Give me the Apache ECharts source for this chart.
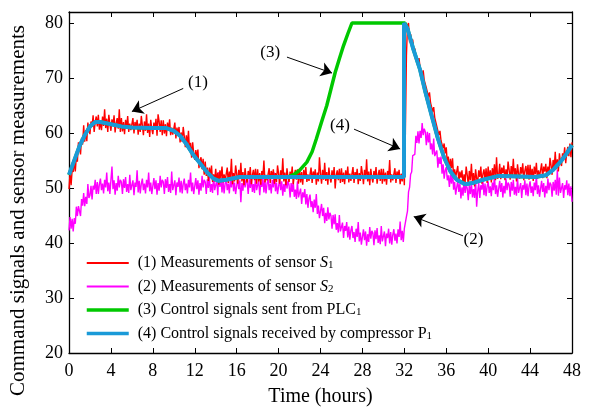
<!DOCTYPE html>
<html>
<head>
<meta charset="utf-8">
<script src="https://cdn.jsdelivr.net/npm/echarts@6/dist/echarts.min.js"></script>
<style>
html,body{margin:0;padding:0;background:#fff;}
#chart{width:599px;height:412px;}
</style>
</head>
<body>
<div id="chart"></div>
<script>
// ---------- DATA ----------
const sampleStepHours = 0.1; // sensors sampled every 0.1 h, 0 .. 48 h (one row = one hour)

// (1) Measurements of sensor S1
const s1Values = [
49.8,52.7,50.5,53.3,52.9,55.0,53.0,55.7,54.8,58.3,
57.4,56.1,59.1,57.9,61.4,58.4,60.5,58.5,61.9,60.5,
59.8,62.1,61.1,63.2,60.2,62.0,63.0,61.2,63.3,60.6,
62.3,60.5,63.0,61.3,64.3,60.9,62.6,60.2,63.3,61.6,
60.4,62.5,61.3,63.2,60.1,61.8,62.7,60.8,64.3,60.2,
62.7,60.3,62.0,59.8,62.4,61.0,63.1,60.2,61.7,60.5,
60.5,62.7,59.9,62.0,61.0,62.4,59.7,61.7,60.2,63.1,
61.4,59.6,62.1,60.4,63.4,60.0,61.7,59.3,62.4,60.7,
59.8,61.9,60.7,62.6,59.5,63.4,62.1,60.2,62.3,59.6,
62.3,59.9,61.6,59.4,61.9,60.5,62.5,59.6,61.0,59.7,
59.8,61.9,59.0,61.0,59.8,61.1,58.3,60.1,58.4,61.1,
59.4,57.4,59.6,57.7,60.4,56.8,58.2,55.5,58.3,56.3,
55.1,56.9,55.4,57.0,53.6,55.0,55.6,53.4,55.3,52.4,
54.8,52.2,53.7,51.3,53.7,52.1,54.1,51.1,52.5,51.2,
53.5,51.1,52.8,50.6,53.2,51.8,53.9,51.0,52.5,51.3,
51.5,53.7,50.9,53.0,52.0,55.3,50.7,52.7,51.2,54.1,
52.6,50.8,53.3,51.6,54.6,51.2,52.9,50.5,53.6,51.9,
51.0,53.1,51.9,53.8,50.7,52.4,53.3,51.4,53.5,50.8,
53.4,51.2,52.7,50.6,53.1,51.9,55.0,51.0,52.4,51.4,
51.6,53.6,50.9,53.1,52.0,53.4,50.8,52.7,51.1,54.1,
52.6,50.8,53.2,51.7,55.4,51.2,52.8,50.5,53.6,51.8,
51.1,53.0,51.9,53.9,50.7,52.3,53.3,51.5,53.4,50.8,
53.5,51.0,52.9,50.6,53.3,51.8,53.8,51.1,52.5,51.3,
51.4,53.7,50.9,53.0,52.1,53.4,50.6,52.8,51.2,55.6,
52.7,50.8,53.3,51.5,54.6,51.3,52.9,50.6,53.7,51.9,
51.0,53.2,51.8,53.8,49.9,52.4,53.2,51.4,53.5,50.9,
53.6,51.1,52.8,50.7,53.2,51.7,53.9,51.0,52.6,51.3,
51.5,53.8,50.9,52.9,52.0,53.5,50.7,52.7,51.3,54.0,
52.6,50.7,53.3,51.6,55.2,51.2,53.0,50.5,53.5,51.9,
51.0,53.1,52.0,53.8,50.8,52.4,53.3,51.3,53.5,50.8,
53.5,51.2,52.8,50.6,53.1,51.8,55.1,51.0,52.5,51.4,
51.5,53.6,50.9,53.0,52.0,53.3,50.7,52.6,51.2,54.1,
50.5,60.0,74.0,79.5,80.0,76.5,78.0,76.0,77.0,75.0,
75.4,73.8,74.1,72.6,73.6,71.9,72.2,70.5,71.4,69.6,
69.9,68.2,68.3,66.6,67.4,65.5,65.7,63.9,64.7,62.8,
63.0,61.2,61.3,59.6,60.4,58.6,58.9,57.2,58.1,56.3,
57.4,54.5,55.7,53.1,55.3,53.6,55.4,52.2,53.4,52.0,
52.0,54.0,51.0,53.0,51.9,53.2,50.5,52.5,51.0,53.9,
52.4,50.6,53.1,51.4,54.4,51.0,52.7,50.3,53.4,51.7,
51.1,53.2,52.0,53.9,50.8,52.5,53.4,51.5,53.6,50.9,
53.9,51.5,53.2,51.0,53.6,52.2,54.3,51.4,55.6,51.7,
52.2,54.4,51.6,53.7,52.7,54.1,51.4,53.4,51.9,54.8,
53.3,51.5,54.0,52.3,55.3,51.9,53.6,51.2,54.3,52.6,
51.7,53.8,52.6,54.5,51.4,53.1,54.0,52.1,54.2,51.5,
54.2,51.8,53.5,51.3,53.9,52.5,54.6,51.7,53.2,52.0,
52.3,54.5,51.8,53.9,53.0,54.4,51.8,53.9,52.5,55.5,
54.1,52.4,55.1,53.5,56.6,53.4,55.2,53.0,56.3,54.7,
54.0,56.3,55.3,57.4,54.5,56.4,57.5,55.8,58.1,55.6,
58.3
];

// (2) Measurements of sensor S2
const s2Values = [
42.3,44.7,42.6,44.4,42.1,44.5,43.5,46.6,44.9,46.7,
46.7,44.9,48.0,46.8,49.1,46.7,48.4,47.1,50.7,48.2,
48.7,50.4,47.9,50.4,49.7,51.5,48.9,51.1,48.9,50.7,
51.7,49.6,50.8,49.0,51.5,50.1,52.8,49.4,51.0,48.9,
49.2,53.9,49.8,51.4,48.8,50.9,49.5,52.2,50.1,51.5,
51.1,48.9,51.6,50.0,52.0,49.3,50.7,49.1,52.4,49.6,
49.9,51.4,48.7,51.0,50.2,53.2,49.2,51.3,49.0,50.8,
51.7,49.6,50.8,49.0,51.5,50.1,52.8,49.4,51.0,48.9,
49.2,51.8,49.8,51.4,48.8,50.9,49.5,52.2,50.1,51.5,
51.1,48.9,51.6,50.0,52.0,49.3,50.7,49.1,53.0,49.6,
49.9,51.4,48.7,51.0,50.2,51.9,49.2,51.3,49.0,50.8,
51.7,49.6,50.8,49.0,51.5,50.1,52.8,49.4,51.0,48.9,
49.2,51.8,49.8,51.4,48.8,50.9,49.5,52.2,50.1,51.5,
51.1,48.9,51.6,50.0,52.0,49.3,50.7,49.1,52.4,49.6,
49.9,51.4,48.7,52.9,50.2,51.9,49.2,51.3,49.0,50.8,
51.7,49.6,50.8,49.0,51.5,50.1,52.8,49.4,51.0,48.9,
49.2,51.8,49.8,51.4,47.4,50.9,49.5,52.2,50.1,51.5,
51.1,48.9,51.6,50.0,52.0,49.3,50.7,49.1,52.4,49.6,
49.9,51.4,48.7,51.0,50.2,51.9,49.2,51.3,49.0,50.8,
51.7,49.6,50.8,49.0,51.5,50.1,52.8,49.4,51.0,48.9,
49.0,51.6,49.6,51.2,48.6,50.7,49.3,52.0,49.9,51.3,
50.5,48.3,50.9,49.3,51.2,48.4,49.7,48.0,51.2,48.3,
48.5,49.9,47.1,49.2,48.3,49.8,47.0,48.9,46.4,48.1,
48.8,46.5,47.6,45.6,47.9,46.4,48.9,45.3,46.8,44.5,
44.6,47.1,44.9,46.4,43.6,45.5,44.0,46.5,44.3,45.5,
44.9,42.6,45.1,43.4,45.2,42.4,43.6,41.9,45.1,42.1,
42.3,43.7,40.9,43.1,42.2,43.8,41.0,43.0,40.6,42.3,
43.1,40.9,42.0,40.2,42.6,41.1,43.8,40.3,41.9,39.7,
39.9,42.5,40.5,42.1,39.5,41.6,40.2,42.9,40.8,42.2,
41.8,39.6,42.3,40.7,42.7,40.0,41.4,39.8,43.1,40.3,
40.6,42.1,39.4,41.7,40.9,42.6,39.9,42.0,39.7,41.5,
42.5,40.4,41.7,39.9,42.5,41.1,43.9,40.5,42.2,40.2,
42.6,42.5,44.8,45.8,49.3,50.1,52.5,52.9,55.9,56.0,
56.1,59.5,58.2,60.3,58.1,60.4,59.1,61.8,59.6,60.8,
60.2,57.8,60.2,58.3,60.0,57.0,58.1,56.1,59.0,55.8,
55.7,56.8,53.7,55.6,54.4,55.7,52.6,54.3,51.7,53.2,
53.8,51.4,52.3,50.2,52.4,50.8,53.3,49.7,51.1,48.8,
48.9,51.4,49.3,50.8,48.1,50.1,48.6,51.3,49.1,50.5,
50.0,47.8,50.5,48.9,51.0,48.3,49.8,48.2,51.6,46.6,
49.4,50.9,48.2,50.5,49.7,51.4,48.7,50.8,48.5,50.3,
51.2,49.1,50.3,48.5,51.0,49.6,52.3,48.9,50.5,48.4,
48.7,51.3,49.3,50.9,48.3,50.4,49.0,51.7,49.6,51.0,
50.6,48.4,51.1,49.5,51.5,48.8,50.2,48.6,51.9,49.1,
49.4,50.9,48.2,50.5,49.7,51.4,48.7,50.8,48.5,50.3,
51.2,49.1,50.3,48.5,51.0,49.6,52.3,48.9,50.5,48.4,
48.7,51.3,49.3,50.9,48.3,50.4,49.0,51.7,49.6,51.0,
50.6,48.4,51.1,49.5,51.5,48.8,53.3,48.6,51.9,49.1,
49.4,50.9,48.2,50.5,49.7,51.4,48.7,50.8,48.5,50.3,
47.5
];

// (3) Control signals sent from PLC1
const plcTimes  = [0,0.5,1,1.5,2,2.5,3,4,5,6,8,9.3,10,10.6,11.2,11.8,12.5,13.2,13.8,14.3,15,16.3,20,21,21.5,22,22.7,23.2,23.6,24.1,24.6,25,25.4,25.8,26.2,26.6,27,31.8,32.05,32.3,32.85,33.5,34,34.6,35.2,35.8,36.4,37,37.8,38.5,39.5,41,43,44.5,45.5,46.2,47,47.5,48];
const plcValues = [52.4,55,57.6,59.6,61.2,62,62,61.6,61.2,61,60.9,60.9,60.4,59.5,58,56.2,54.5,52.8,51.7,51.3,51.5,52,52,52.1,52.5,53.2,54.7,56.6,58.9,62,65,68,71,73.5,75.9,78,80,80,80,79,75.3,71.5,67.5,63.2,59,55.5,53,51.5,50.7,50.9,51.5,52.2,52.1,52,52.3,53.3,55,56.3,57.8];

// (4) Control signals received by compressor P1
const p1Times  = [0,0.5,1,1.5,2,2.5,3,4,5,6,8,9.3,10,10.6,11.2,11.8,12.5,13.2,13.8,14.3,15,16.3,20,25,31.97,31.97,32.05,32.3,32.85,33.5,34,34.6,35.2,35.8,36.4,37,37.8,38.5,39.5,41,43,44.5,45.5,46.2,47,47.5,48];
const p1Values = [52.4,55,57.6,59.6,61.2,62,62,61.6,61.2,61,60.9,60.9,60.4,59.5,58,56.2,54.5,52.8,51.7,51.3,51.5,52,52,52,52,80,80,79,75.3,71.5,67.5,63.2,59,55.5,53,51.5,50.7,50.9,51.5,52.2,52.1,52,52.3,53.3,55,56.3,57.8];

// axis ticks
const xTickStep = 4, xMin = 0, xMax = 48;
const yTickStep = 10, yMin = 20, yMax = 82;

// annotation arrows: [label, labelT, labelV, startT, startV, tipT, tipV]
const annotations = [
  ['(1)', 12.3, 69.1, 10.9, 68.1, 6.0, 63.9],
  ['(3)', 19.2, 74.7, 20.8, 73.8, 25.1, 70.9],
  ['(4)', 25.85, 61.3, 27.2, 60.7, 31.6, 57.1],
  ['(2)', 38.6, 40.7, 37.6, 41.3, 32.9, 44.8]
];

const legendLabels = {
  s1: '(1) Measurements of sensor {it|S}{sub|1}',
  s2: '(2) Measurements of sensor {it|S}{sub|2}',
  plc: '(3) Control signals sent from PLC{sub|1}',
  p1: '(4) Control signals received by compressor P{sub|1}'
};

// ---------- CHART ----------
const FONT = 'Liberation Serif';
const toPairs = (vals) => vals.map((v, i) => [Math.round(i * sampleStepHours * 100) / 100, v]);
const zipPairs = (ts, vs) => ts.map((t, i) => [t, vs[i]]);

const chart = echarts.init(document.getElementById('chart'), null, {renderer: 'canvas'});

const baseX = {
  type: 'value', min: xMin, max: xMax, interval: xTickStep,
  axisLine: {show: true, onZero: false, lineStyle: {color: '#000', width: 1.3}},
  axisTick: {show: true, inside: true, length: 5, lineStyle: {color: '#000', width: 1}},
  splitLine: {show: false}
};
const baseY = {
  type: 'value', min: yMin, max: yMax, interval: yTickStep,
  axisLine: {show: true, onZero: false, lineStyle: {color: '#000', width: 1.3}},
  axisTick: {show: true, inside: true, length: 5, lineStyle: {color: '#000', width: 1}},
  splitLine: {show: false}
};

const hiddenSymbol = {opacity: 0};

const option = {
  animation: false,
  backgroundColor: '#fff',
  grid: {left: 69, right: 27, top: 12, bottom: 58},
  xAxis: [
    Object.assign({}, baseX, {
      position: 'bottom',
      name: 'Time (hours)', nameLocation: 'middle', nameGap: 34,
      nameTextStyle: {fontFamily: FONT, fontSize: 20, color: '#000'},
      axisLabel: {fontFamily: FONT, fontSize: 18, color: '#000', margin: 9}
    }),
    Object.assign({}, baseX, {position: 'top', axisLabel: {show: false}})
  ],
  yAxis: [
    Object.assign({}, baseY, {
      position: 'left',
      name: 'Command signals and sensor measurements', nameLocation: 'middle', nameGap: 40,
      nameTextStyle: {fontFamily: FONT, fontSize: 21, color: '#000', padding: [0, 56, 0, 0]},
      axisLabel: {fontFamily: FONT, fontSize: 18, color: '#000', margin: 6,
        formatter: v => (v % yTickStep === 0 ? String(v) : '')}
    }),
    Object.assign({}, baseY, {position: 'right', axisLabel: {show: false}})
  ],
  legend: {
    orient: 'vertical', left: 80, top: 250,
    itemWidth: 42, itemHeight: 14, itemGap: 7.5,
    data: [
      {name: 's1', lineStyle: {width: 2}, itemStyle: hiddenSymbol},
      {name: 's2', lineStyle: {width: 2}, itemStyle: hiddenSymbol},
      {name: 'plc', lineStyle: {width: 3.5}, itemStyle: hiddenSymbol},
      {name: 'p1', lineStyle: {width: 3.5}, itemStyle: hiddenSymbol}
    ],
    formatter: n => legendLabels[n],
    textStyle: {
      fontFamily: FONT, fontSize: 16, color: '#000', padding: [0, 0, 0, 4],
      rich: {
        it: {fontFamily: FONT, fontSize: 16, fontStyle: 'italic', color: '#000'},
        sub: {fontFamily: FONT, fontSize: 11, color: '#000', verticalAlign: 'bottom', lineHeight: 11}
      }
    }
  },
  series: [
    {name: 's2', type: 'line', data: toPairs(s2Values), symbol: 'none', showSymbol: false,
      lineStyle: {color: '#ff00ff', width: 1.4}, itemStyle: {color: '#ff00ff'}, z: 2},
    {name: 's1', type: 'line', data: toPairs(s1Values), symbol: 'none', showSymbol: false,
      lineStyle: {color: '#ff0000', width: 1.4}, itemStyle: {color: '#ff0000'}, z: 3},
    {name: 'plc', type: 'line', data: zipPairs(plcTimes, plcValues), symbol: 'none', showSymbol: false,
      lineStyle: {color: '#00c800', width: 3.5}, itemStyle: {color: '#00c800'}, z: 4},
    {name: 'p1', type: 'line', data: zipPairs(p1Times, p1Values), symbol: 'none', showSymbol: false,
      lineStyle: {color: '#1a9ad8', width: 4}, itemStyle: {color: '#1a9ad8'}, z: 5,
      markLine: {
        silent: true, animation: false,
        symbol: ['none', 'arrow'], symbolSize: 11,
        lineStyle: {color: '#000', width: 1, type: 'solid'},
        label: {show: false},
        data: annotations.map(a => [
          {coord: [a[3], a[4]], symbol: 'none'},
          {coord: [a[5], a[6]], symbol: 'arrow'}
        ])
      },
      markPoint: {
        silent: true, animation: false,
        symbol: 'circle', symbolSize: 0,
        label: {show: true, position: 'inside', fontFamily: FONT, fontSize: 17, color: '#000',
          formatter: p => p.name},
        data: annotations.map(a => ({name: a[0], coord: [a[1], a[2]]}))
      }
    }
  ]
};
chart.setOption(option);
</script>
</body>
</html>
